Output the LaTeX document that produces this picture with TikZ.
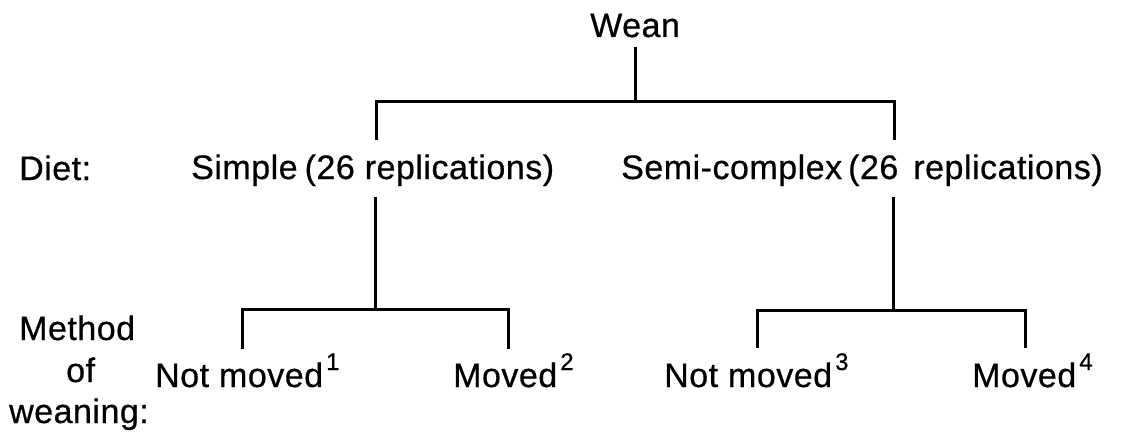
\documentclass[tikz,border=0pt]{standalone}
\usepackage{fontspec}
\setmainfont[LetterSpace=1.5,FakeBold=0.6]{Liberation Sans}
% small raised footnote numeral after a treatment name
\newcommand\supnum[1]{\hspace{3pt}\raisebox{17pt}{\fontsize{24}{24}\selectfont #1}}
\begin{document}
\begin{tikzpicture}[x=1pt,y=-1pt,
  lab/.style={anchor=base west,inner sep=0pt,font=\fontsize{34}{40}\selectfont},
  bar/.style={line width=3pt}]
\fill[white] (0,0) rectangle (1131,433);
\useasboundingbox (0,0) rectangle (1131,433);

% row labels
\node[lab] (diet)    at (19,180)  {Diet:};
\node[lab] (method)  at (19,340)  {Method};
\node[lab] (of)      at (66,382)  {of};
\node[lab] (weaning) at (9,423)   {weaning:};

% tree nodes
\node[lab] (wean)   at (590,37)  {Wean};
\node[lab] (simple) at (191,179) {Simple\hspace{7pt}(26 replications)};
\node[lab] (semi)   at (621,179) {Semi-complex\hspace{6pt}(26\hspace{15pt}replications)};
\node[lab] (nm1)    at (155,387) {Not moved\supnum{1}};
\node[lab] (mv2)    at (453,387) {Moved\supnum{2}};
\node[lab] (nm3)    at (664,387) {Not moved\supnum{3}};
\node[lab] (mv4)    at (972,387) {Moved\supnum{4}};

% junction points of the brackets
\coordinate (w0) at (635,47);
\coordinate (j0) at (635,102);
\coordinate (d1) at (376,140);
\coordinate (d2) at (894,140);

\coordinate (s1) at (375,197);
\coordinate (j1) at (375,309);
\coordinate (e1) at (242,349);
\coordinate (e2) at (508,349);

\coordinate (s2) at (893,197);
\coordinate (j2) at (893,310);
\coordinate (e3) at (757,348);
\coordinate (e4) at (1025,348);

% Wean -> diets
\draw[bar] (w0) -- (j0);
\draw[bar] (d1) |- (j0) -| (d2);

% Simple diet -> weaning methods
\draw[bar] (s1) -- (j1);
\draw[bar] (e1) |- (j1) -| (e2);

% Semi-complex diet -> weaning methods
\draw[bar] (s2) -- (j2);
\draw[bar] (e3) |- (j2) -| (e4);
\end{tikzpicture}
\end{document}
